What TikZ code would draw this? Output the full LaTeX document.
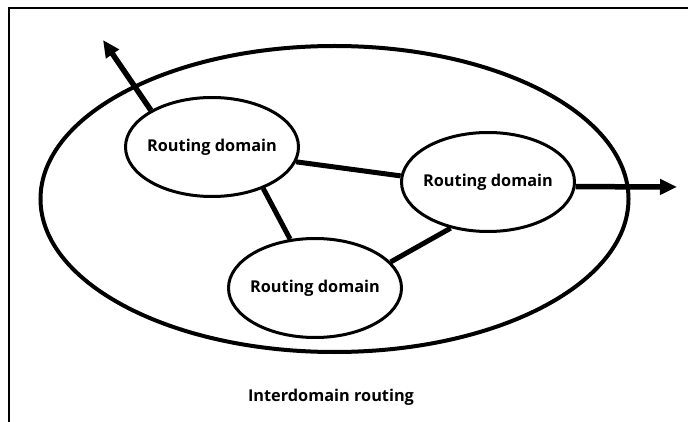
\documentclass[tikz,border=0pt]{standalone}
\usepackage{fontspec}
\setmainfont{Open Sans}
\usetikzlibrary{shapes.geometric,arrows.meta}
\begin{document}
\begin{tikzpicture}[x=1pt,y=-1pt,
    rdomain/.style={draw,ellipse,line width=3pt,inner xsep=-6pt,inner ysep=0pt,
      minimum width=173pt,minimum height=99pt,font=\bfseries\fontsize{16.3}{19}\selectfont},
    link/.style={line width=5pt},
    exitarrow/.style={line width=5.5pt,-{Triangle[length=17pt,width=15pt]}}]
            \useasboundingbox (0,0) rectangle (699,422);
            \draw [line width=1.5pt] (9,422)--(9,8)--(688,8);
            \node [draw,ellipse,line width=4pt,minimum width=588pt,minimum height=306pt,inner sep=0pt] (outer) at(334.5,199) {};
            \node [rdomain] (dom1) at(212,147) {Routing domain};
            \node [rdomain] (dom2) at(488,182) {Routing domain};
            \node [rdomain] (dom3) at(315,288) {Routing domain};
            \node [font=\bfseries\fontsize{16.3}{19}\selectfont] (title) at(331,397) {Interdomain routing};
            \coordinate (tip1) at(103,40);
            \coordinate (tip2) at(677,187);
            \draw [link] (dom1.-10)--(dom2.176);
            \draw [link] (dom1.-39)--(dom3.117);
            \draw [link] (dom3.19)--(dom2.-129);
            \draw [exitarrow] (dom1.149)--(tip1);
            \draw [exitarrow] (dom2.-3)--(tip2);
        \end{tikzpicture}
\end{document}
